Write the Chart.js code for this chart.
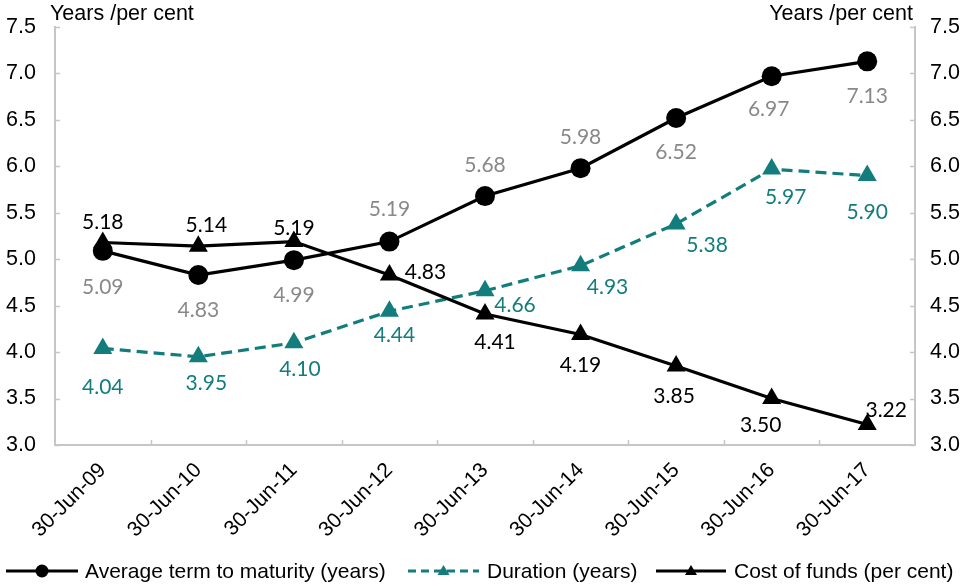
<!DOCTYPE html>
<html>
<head>
<meta charset="utf-8">
<script src="https://cdn.jsdelivr.net/npm/chart.js@4/dist/chart.umd.min.js"></script>
<style>
  html, body { margin: 0; padding: 0; background: #ffffff; }
  #wrap { width: 972px; height: 584px; position: relative; }
</style>
</head>
<body>
<div id="wrap"><canvas id="chart"></canvas></div>
<script>
// Reporting dates
const categories = ['30-Jun-09', '30-Jun-10', '30-Jun-11', '30-Jun-12', '30-Jun-13',
                    '30-Jun-14', '30-Jun-15', '30-Jun-16', '30-Jun-17'];

// Series values
const avgTermToMaturity = [5.09, 4.83, 4.99, 5.19, 5.68, 5.98, 6.52, 6.97, 7.13];
const durationYears     = [4.04, 3.95, 4.10, 4.44, 4.66, 4.93, 5.38, 5.97, 5.90];
const costOfFunds       = [5.18, 5.14, 5.19, 4.83, 4.41, 4.19, 3.85, 3.50, 3.22];

// Value axis ticks (both sides)
const yTicks = [3.0, 3.5, 4.0, 4.5, 5.0, 5.5, 6.0, 6.5, 7.0, 7.5];

const axisTitle = 'Years /per cent';
const seriesNames = ['Average term to maturity (years)', 'Duration (years)', 'Cost of funds (per cent)'];

// Styling
const TEAL = '#127D7C';
const GREY_LABEL = '#898989';
const AXIS_COLOR = '#C6C6C6';
const SANS = '"Liberation Sans", Arial, sans-serif';
const LABEL_FONT = '21px Lato, "Open Sans", sans-serif';

// Where each value label sits relative to its point (dx, dy in px)
const labelPlacement = {
  avg:  { dx: [0, 0, 0, 0, 0, 0, 0, -3, 0], dy: [36, 35, 35, -32, -31, -31, 34, 33, 35] },
  dur:  { dx: [0, 8, 6, 5, 30, 27, 31, 14, 0], dy: [39, 26, 26, 24, 14, 22, 21, 28, 37] },
  cost: { dx: [0, 8, 0, 36, 10, 0, -2, -11, 19], dy: [-20, -21, -13, -3, 28, 31, 30, 27, -14] }
};

const decorPlugin = {
  id: 'decor',
  afterDatasetsDraw(chart) {
    const ctx = chart.ctx;
    ctx.save();
    ctx.font = LABEL_FONT;
    ctx.textAlign = 'center';
    ctx.textBaseline = 'middle';
    chart.data.datasets.forEach((ds, di) => {
      const meta = chart.getDatasetMeta(di);
      const place = labelPlacement[ds.key];
      ctx.fillStyle = ds.labelColor;
      meta.data.forEach((pt, i) => {
        ctx.fillText(ds.data[i].toFixed(2), pt.x + place.dx[i], pt.y + place.dy[i]);
      });
    });
    ctx.restore();
  },
  afterDraw(chart) {
    const ctx = chart.ctx;
    const xs = chart.scales.x, yl = chart.scales.y;
    const { left, right, top, bottom } = chart.chartArea;
    ctx.save();

    // inward tick marks
    ctx.strokeStyle = AXIS_COLOR;
    ctx.lineWidth = 1.5;
    ctx.beginPath();
    for (let i = 1; i < categories.length; i++) {
      const px = Math.round((xs.getPixelForValue(i - 1) + xs.getPixelForValue(i)) / 2) + 0.5;
      ctx.moveTo(px, bottom);
      ctx.lineTo(px, bottom - 5);
    }
    yTicks.forEach(v => {
      const py = Math.round(yl.getPixelForValue(v)) + 0.5;
      ctx.moveTo(left, py); ctx.lineTo(left + 5, py);
      ctx.moveTo(right, py); ctx.lineTo(right - 5, py);
    });
    ctx.stroke();

    // axis titles
    ctx.fillStyle = '#000';
    ctx.font = '21.5px ' + SANS;
    ctx.textBaseline = 'middle';
    ctx.textAlign = 'left';
    ctx.fillText(axisTitle, 50, 14);
    ctx.textAlign = 'right';
    ctx.fillText(axisTitle, 913, 14);

    // legend
    const ly = 571;
    const items = [
      { x0: 6, x1: 78, text: 85, color: '#000', dash: [], marker: 'circle' },
      { x0: 408, x1: 479, text: 487, color: TEAL, dash: [8, 5], marker: 'triangle' },
      { x0: 656, x1: 726, text: 734, color: '#000', dash: [], marker: 'triangle' }
    ];
    items.forEach((it, k) => {
      ctx.strokeStyle = it.color;
      ctx.fillStyle = it.color;
      ctx.lineWidth = 3;
      ctx.setLineDash(it.dash);
      ctx.beginPath();
      ctx.moveTo(it.x0, ly);
      ctx.lineTo(it.x1, ly);
      ctx.stroke();
      ctx.setLineDash([]);
      const cx = (it.x0 + it.x1) / 2;
      ctx.beginPath();
      if (it.marker === 'circle') {
        ctx.arc(cx, ly, 6.5, 0, Math.PI * 2);
      } else {
        ctx.moveTo(cx, ly - 6);
        ctx.lineTo(cx + 6, ly + 4);
        ctx.lineTo(cx - 6, ly + 4);
        ctx.closePath();
      }
      ctx.fill();
      ctx.fillStyle = '#000';
      ctx.textAlign = 'left';
      ctx.textBaseline = 'middle';
      ctx.font = '21px ' + SANS;
      ctx.fillText(seriesNames[k], it.text, ly + 1);
    });
    ctx.restore();
  }
};

const yTickOptions = (padding) => ({
  min: 3, max: 7.5, stepSize: 0.5,
  padding,
  color: '#000',
  font: { family: SANS, size: 21.5 },
  callback: v => Number(v).toFixed(1)
});

// Fix value-axis width and drop its automatic label overhang
const fitValueAxis = (width) => (scale) => {
  scale.width = width;
  scale.paddingTop = 0;
  scale.paddingBottom = 0;
};

new Chart(document.getElementById('chart'), {
  type: 'line',
  data: {
    labels: categories,
    datasets: [
      {
        key: 'avg', label: seriesNames[0], data: avgTermToMaturity, yAxisID: 'y',
        borderColor: '#000', backgroundColor: '#000', borderWidth: 3.2,
        pointStyle: 'circle', pointRadius: 10, pointBorderWidth: 0,
        labelColor: GREY_LABEL, order: 2, tension: 0
      },
      {
        key: 'dur', label: seriesNames[1], data: durationYears, yAxisID: 'y',
        borderColor: TEAL, backgroundColor: TEAL, borderWidth: 3.2, borderDash: [11, 6],
        pointStyle: 'triangle', pointRadius: 11, pointBorderWidth: 0,
        labelColor: TEAL, order: 1, tension: 0
      },
      {
        key: 'cost', label: seriesNames[2], data: costOfFunds, yAxisID: 'y',
        borderColor: '#000', backgroundColor: '#000', borderWidth: 3.2,
        pointStyle: 'triangle', pointRadius: 11, pointBorderWidth: 0,
        labelColor: '#000', order: 0, tension: 0
      }
    ]
  },
  options: {
    responsive: true,
    maintainAspectRatio: false,
    animation: false,
    devicePixelRatio: 1,
    layout: { padding: { top: 27, left: 0, right: 0, bottom: 0 } },
    plugins: { legend: { display: false }, tooltip: { enabled: false } },
    scales: {
      x: {
        offset: true,
        grid: { display: false, drawTicks: false },
        border: { display: true, color: AXIS_COLOR, width: 2 },
        ticks: {
          color: '#000', font: { family: SANS, size: 21 },
          minRotation: 45, maxRotation: 45, padding: 13, autoSkip: false
        },
        afterFit(scale) { scale.height = 139; scale.paddingLeft = 0; scale.paddingRight = 0; }
      },
      y: {
        position: 'left',
        min: 3, max: 7.5,
        grid: { display: false, drawTicks: false },
        border: { display: true, color: AXIS_COLOR, width: 2 },
        ticks: yTickOptions(19),
        afterFit: fitValueAxis(55)
      },
      y1: {
        position: 'right',
        min: 3, max: 7.5,
        grid: { display: false, drawTicks: false },
        border: { display: true, color: AXIS_COLOR, width: 2 },
        ticks: yTickOptions(15),
        afterFit: fitValueAxis(57)
      }
    }
  },
  plugins: [decorPlugin]
});
</script>
</body>
</html>
